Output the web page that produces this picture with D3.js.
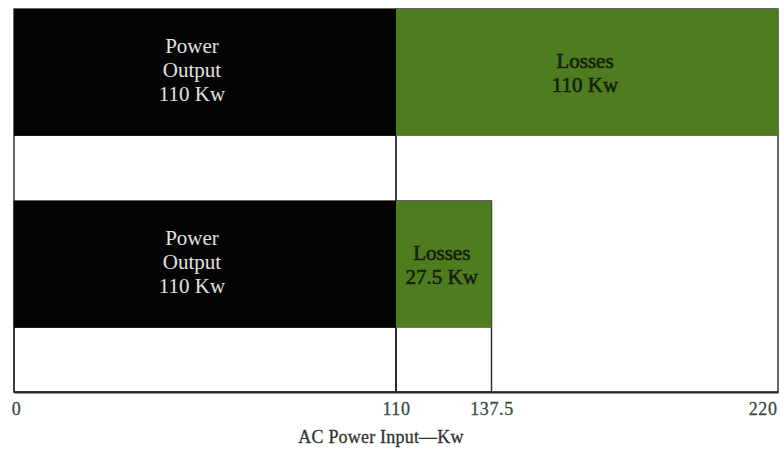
<!DOCTYPE html>
<html>
<head>
<meta charset="utf-8">
<script src="https://cdn.jsdelivr.net/npm/d3@7"></script>
<style>
  html, body { margin: 0; padding: 0; background: #ffffff; }
  svg { display: block; }
  text { font-family: "Liberation Serif", "DejaVu Serif", serif; }
</style>
</head>
<body>
<svg id="chart" width="784" height="449"></svg>
<script>
// Input power split into output and losses, at two efficiencies
const categories = ["50% efficiency", "80% efficiency"];
const outputKw = [110, 110];
const lossesKw = [110, 27.5];
const tickValues = [0, 110, 137.5, 220];
const axisTitle = "AC Power Input\u2014Kw";

const svg = d3.select("#chart");

const x = d3.scaleLinear().domain([0, 220]).range([14, 778]);
const y = d3.scaleBand()
  .domain(categories)
  .range([9, 392])
  .paddingInner(0.339)
  .paddingOuter(0.167)
  .align(0);
const baseline = y.range()[1];

// segments: stacked output then losses
const segments = [];
categories.forEach((c, i) => {
  segments.push({ cat: c, kind: "output", x0: 0, x1: outputKw[i],
    lines: ["Power", "Output", outputKw[i] + " Kw"] });
  segments.push({ cat: c, kind: "losses", x0: outputKw[i], x1: outputKw[i] + lossesKw[i],
    lines: ["Losses", lossesKw[i] + " Kw"] });
});

const fill = { output: "#040404", losses: "#4f7c1f" };
const ink = { output: "#e2e2e2", losses: "#14200a" };
const shift = { output: -13, losses: -2 };

// frames dropping from each segment down to the baseline
svg.append("g").selectAll("rect")
  .data(segments)
  .join("rect")
  .attr("x", d => x(d.x0))
  .attr("y", d => y(d.cat))
  .attr("width", d => x(d.x1) - x(d.x0))
  .attr("height", d => baseline - y(d.cat))
  .attr("fill", "none")
  .attr("stroke", "#2a2a2a")
  .attr("stroke-width", 1.4);

// filled bars
svg.append("g").selectAll("rect")
  .data(segments)
  .join("rect")
  .attr("x", d => x(d.x0))
  .attr("y", d => y(d.cat))
  .attr("width", d => x(d.x1) - x(d.x0))
  .attr("height", y.bandwidth())
  .attr("fill", d => fill[d.kind]);

// segment labels
const fs = 21, lh = 24;
const labels = svg.append("g").selectAll("text")
  .data(segments)
  .join("text")
  .attr("text-anchor", "middle")
  .attr("font-size", fs)
  .attr("fill", d => ink[d.kind])
  .attr("stroke", d => d.kind === "losses" ? ink[d.kind] : "none")
  .attr("stroke-width", 0.6)
  .attr("y", d => y(d.cat) + y.bandwidth() / 2);

labels.each(function(d) {
  const n = d.lines.length;
  const cx = (x(d.x0) + x(d.x1)) / 2 + shift[d.kind];
  d3.select(this).selectAll("tspan")
    .data(d.lines)
    .join("tspan")
    .attr("x", cx)
    .attr("dy", (t, i) => i === 0 ? ((-(n - 1) / 2) * lh + (n === 3 ? 5 : 8)) : lh)
    .text(t => t);
});

// x axis
const axis = d3.axisBottom(x)
  .tickValues(tickValues)
  .tickSize(0)
  .tickPadding(10)
  .tickFormat(d => String(d));

const gx = svg.append("g")
  .attr("transform", `translate(0,${baseline})`)
  .call(axis);
gx.select(".domain").attr("stroke", "#2a2a2a").attr("stroke-width", 2.2);
gx.selectAll(".tick text")
  .attr("font-family", "'Liberation Serif', serif")
  .attr("font-size", 18)
  .attr("fill", "#3a4a3e")
  .attr("stroke", "#3a4a3e")
  .attr("stroke-width", 0.3)
  .attr("letter-spacing", 0.6)
  .attr("text-anchor", d => d === 220 ? "end" : "middle")
  .attr("dx", d => d === 220 ? -1 : (d === 0 ? 2 : 0));

svg.append("text")
  .attr("x", (x.range()[0] + x.range()[1]) / 2 - 15)
  .attr("y", 443)
  .attr("text-anchor", "middle")
  .attr("font-size", 18)
  .attr("letter-spacing", 0.2)
  .attr("fill", "#2f352f")
  .attr("stroke", "#2f352f")
  .attr("stroke-width", 0.3)
  .text(axisTitle);
</script>
</body>
</html>
